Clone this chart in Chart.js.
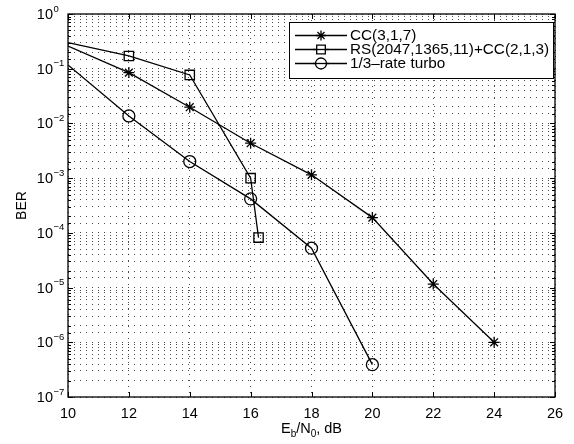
<!DOCTYPE html>
<html>
<head>
<meta charset="utf-8">
<script src="https://cdn.jsdelivr.net/npm/chart.js@4.4.1/dist/chart.umd.min.js"></script>
<style>
  html, body { margin: 0; padding: 0; background: #fff; }
  #wrap { width: 574px; height: 444px; }
</style>
</head>
<body>
<div id="wrap"><canvas id="c" width="574" height="444"></canvas></div>
<script>
// BER vs Eb/N0
const ebnoCC = [10, 12, 14, 16, 18, 20, 22, 24];
const berCC = [0.26, 0.085, 0.0198, 0.00435, 0.00115, 1.9e-4, 1.16e-5, 1.0e-6];

const ebnoRS = [10, 12, 14, 16, 16.26];
const berRS = [0.30, 0.171, 0.077, 0.001, 8.2e-5];

const ebnoTurbo = [10, 12, 14, 16, 18, 20];
const berTurbo = [0.117, 0.0137, 0.00201, 4.18e-4, 5.25e-5, 3.9e-7];

const xTicks = [10, 12, 14, 16, 18, 20, 22, 24, 26];
const yExps = [0, -1, -2, -3, -4, -5, -6, -7];

const FONTE = "'Liberation Sans', Arial, Helvetica, sans-serif";
const pts = (xs, ys) => xs.map((x, i) => ({ x, y: ys[i] }));
// first point sits on the left edge, no marker there
const raios = (n, r) => Array.from({ length: n }, (_, i) => (i === 0 ? 0 : r));

const serie = (label, xs, ys, estilo, r) => ({
  label, data: pts(xs, ys), pointStyle: estilo,
  borderColor: "#000", borderWidth: 1.3,
  pointRadius: raios(xs.length, r), pointHoverRadius: raios(xs.length, r),
  pointBorderColor: "#000", pointBorderWidth: 1.3,
  pointBackgroundColor: "rgba(0,0,0,0)", fill: false, tension: 0,
});

const ehPot10 = (v) => Math.abs(Math.log10(v) - Math.round(Math.log10(v))) < 1e-9;

const eixosMatlab = {
  id: "eixosMatlab",
  afterDatasetsDraw(chart) {
    const { ctx, chartArea: a, scales: { x, y } } = chart;
    ctx.save();
    // tick marks para dentro (embaixo/em cima, esquerda/direita)
    ctx.strokeStyle = "#000";
    ctx.lineWidth = 1;
    ctx.beginPath();
    x.ticks.forEach((t) => {
      const px = Math.round(x.getPixelForValue(t.value)) + 0.5;
      ctx.moveTo(px, a.bottom); ctx.lineTo(px, a.bottom - 5);
      ctx.moveTo(px, a.top); ctx.lineTo(px, a.top + 5);
    });
    y.ticks.forEach((t) => {
      const py = Math.round(y.getPixelForValue(t.value)) + 0.5;
      const len = ehPot10(t.value) ? 5 : 3;
      ctx.moveTo(a.left, py); ctx.lineTo(a.left + len, py);
      ctx.moveTo(a.right, py); ctx.lineTo(a.right - len, py);
    });
    ctx.stroke();
    ctx.lineWidth = 1.3;
    ctx.strokeRect(a.left, a.top, a.right - a.left, a.bottom - a.top);

    // rótulos do eixo y: 10^k
    ctx.fillStyle = "#000";
    ctx.textBaseline = "alphabetic";
    yExps.forEach((k) => {
      const py = y.getPixelForValue(Math.pow(10, k));
      ctx.font = `14.5px ${FONTE}`;
      ctx.textAlign = "right";
      ctx.fillText("10", 53, py + 5);
      ctx.font = `9.5px ${FONTE}`;
      ctx.textAlign = "left";
      ctx.fillText(k === 0 ? "0" : "\u2212" + (-k), 53.5, py - 2.5);
    });

    // título x: E_b/N_0, dB
    const partes = [["E", 0], ["b", 1], ["/N", 0], ["0", 1], [", dB", 0]];
    const fnt = (s) => (s ? `10px ${FONTE}` : `14.5px ${FONTE}`);
    let larg = 0;
    partes.forEach(([t, s]) => { ctx.font = fnt(s); larg += ctx.measureText(t).width; });
    let cx = (a.left + a.right) / 2 - larg / 2;
    partes.forEach(([t, s]) => {
      ctx.font = fnt(s);
      ctx.fillText(t, cx, s ? 437 : 433);
      cx += ctx.measureText(t).width;
    });

    // título y
    ctx.save();
    ctx.translate(22, (a.top + a.bottom) / 2);
    ctx.rotate(-Math.PI / 2);
    ctx.font = `14px ${FONTE}`;
    ctx.textAlign = "center";
    ctx.textBaseline = "middle";
    ctx.fillText("BER", 0, 0);
    ctx.restore();

    // legenda
    const L = { x: 289, y: 22, w: 264, h: 56 };
    ctx.fillStyle = "#fff";
    ctx.fillRect(L.x, L.y, L.w, L.h);
    ctx.strokeStyle = "#000";
    ctx.lineWidth = 1;
    ctx.strokeRect(L.x + 0.5, L.y + 0.5, L.w, L.h);
    chart.data.datasets.forEach((ds, i) => {
      const ly = L.y + 13.5 + i * 14;
      ctx.strokeStyle = "#000";
      ctx.lineWidth = 1.3;
      ctx.beginPath();
      ctx.moveTo(295, ly); ctx.lineTo(347, ly);
      ctx.stroke();
      ctx.fillStyle = "#fff";
      Chart.helpers.drawPoint(ctx, {
        pointStyle: ds.pointStyle, radius: ds.pointRadius[1] - 0.5, rotation: 0, borderWidth: 1.3,
      }, 321, ly);
      if (ds.pointStyle !== "star") {
        // a linha passa por dentro do marcador vazio
        ctx.beginPath(); ctx.moveTo(313, ly); ctx.lineTo(329, ly); ctx.stroke();
      }
      ctx.fillStyle = "#000";
      ctx.font = `15.3px ${FONTE}`;
      ctx.textAlign = "left";
      ctx.textBaseline = "middle";
      ctx.fillText(ds.label, 350, ly + 0.5);
    });
    ctx.restore();
  },
};

new Chart(document.getElementById("c"), {
  type: "line",
  data: {
    datasets: [
      serie("CC(3,1,7)", ebnoCC, berCC, "star", 5.5),
      serie("RS(2047,1365,11)+CC(2,1,3)", ebnoRS, berRS, "rect", 6.6),
      serie("1/3\u2013rate turbo", ebnoTurbo, berTurbo, "circle", 6),
    ],
  },
  options: {
    responsive: false,
    animation: false,
    devicePixelRatio: 1,
    layout: { padding: { top: 14, right: 19, left: 0, bottom: 0 } },
    plugins: { legend: { display: false }, tooltip: { enabled: false } },
    scales: {
      x: {
        type: "linear", min: 10, max: 26,
        afterBuildTicks: (s) => { s.ticks = xTicks.map((v) => ({ value: v })); },
        afterFit: (s) => { s.height = 47; },
        grid: { color: "rgba(0,0,0,0.7)", lineWidth: 1, drawTicks: false },
        border: { display: false, dash: [1, 5] },
        ticks: { color: "#000", font: { family: FONTE, size: 14.5 }, padding: 8, maxRotation: 0 },
      },
      y: {
        type: "logarithmic", min: 1e-7, max: 1,
        afterFit: (s) => { s.width = 68; },
        grid: { color: "rgba(0,0,0,0.7)", lineWidth: 1, drawTicks: false },
        border: { display: false, dash: [1, 5] },
        ticks: { display: false, autoSkip: false },
      },
    },
  },
  plugins: [eixosMatlab],
});
</script>
</body>
</html>
